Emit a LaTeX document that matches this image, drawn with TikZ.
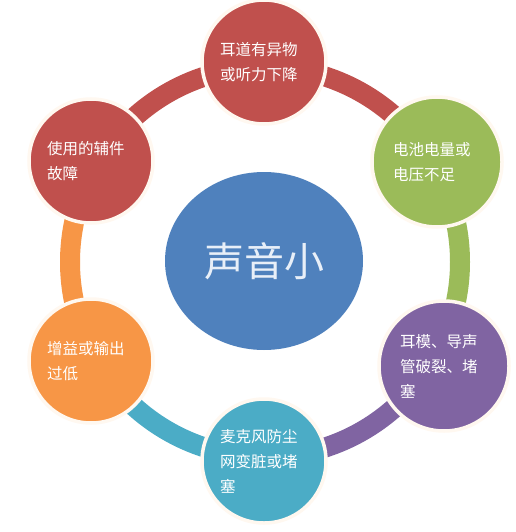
\documentclass[tikz,border=0pt]{standalone}
\usepackage{fontspec}
\usetikzlibrary{shapes.geometric}
\setmainfont{Noto Sans CJK SC}
\definecolor{cRed}{HTML}{C0504D}
\definecolor{cGreen}{HTML}{9BBB59}
\definecolor{cPurple}{HTML}{8064A2}
\definecolor{cTeal}{HTML}{4BACC6}
\definecolor{cOrange}{HTML}{F79646}
\definecolor{cBlue}{HTML}{4F81BD}
\definecolor{cHalo}{HTML}{FFF8F0}
\definecolor{cCenterText}{HTML}{E8EFF8}
\tikzset{
  ringseg/.style={line width=20pt},
  bubble/.style={circle, draw=cHalo, line width=3.5pt, inner sep=0pt,
    text=white, text width=88pt, align=left,
    font=\fontsize{15.5}{25}\selectfont},
}
\begin{document}
\begin{tikzpicture}[x=1pt,y=-1pt]
\useasboundingbox[fill=white] (0,0) rectangle (515,532);
\coordinate (O) at (265,262);
% ring segments (connectors), clockwise from the top
\draw[ringseg, cRed]    (O) ++(-90:195) arc[start angle=-90, end angle=-30, radius=195];
\draw[ringseg, cGreen]  (O) ++(-30:195) arc[start angle=-30, end angle=30, radius=195];
\draw[ringseg, cPurple] (O) ++(30:195)  arc[start angle=30, end angle=90, radius=195];
\draw[ringseg, cTeal]   (O) ++(90:195)  arc[start angle=90, end angle=150, radius=195];
\draw[ringseg, cOrange] (O) ++(150:195) arc[start angle=150, end angle=210, radius=195];
\draw[ringseg, cRed]    (O) ++(210:195) arc[start angle=210, end angle=270, radius=195];
% centre
\node[ellipse, fill=cBlue, minimum width=198pt, minimum height=178pt, inner sep=0pt,
  text=cCenterText, font=\fontsize{40}{48}\selectfont] (c) at (264,261) {声音小};
% outer bubbles
\node[bubble, fill=cRed, minimum size=124pt] (n1) at (264,62) {耳道有异物\\或听力下降};
\node[bubble, fill=cGreen, minimum size=130pt] (n2) at (437,162) {电池电量或\\电压不足};
\node[bubble, fill=cPurple, minimum size=130pt] (n3) at (444,366) {耳模、导声\\管破裂、堵\\塞};
\node[bubble, fill=cTeal, minimum size=124pt] (n4) at (264,461) {麦克风防尘\\网变脏或堵\\塞};
\node[bubble, fill=cOrange, minimum size=124pt] (n5) at (91,361) {增益或输出\\过低};
\node[bubble, fill=cRed, minimum size=124pt] (n6) at (91,161) {使用的辅件\\故障};
\end{tikzpicture}
\end{document}
